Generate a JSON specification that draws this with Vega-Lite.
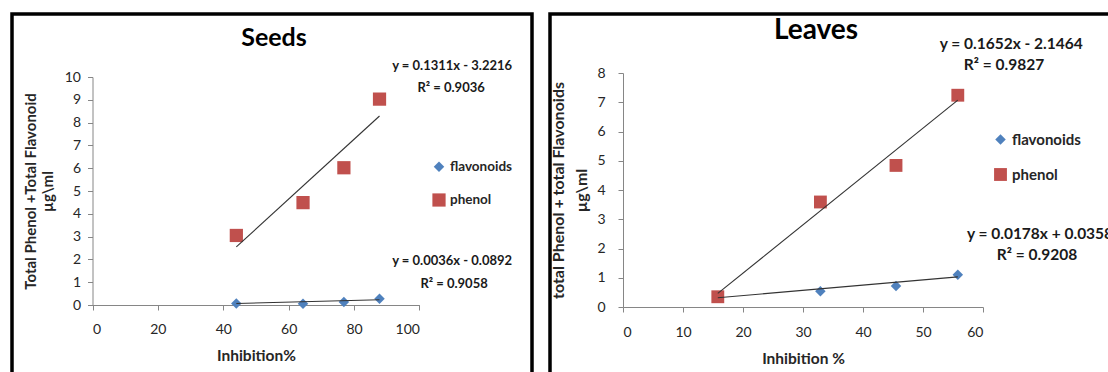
{
  "$schema": "https://vega.github.io/schema/vega-lite/v6.json",
  "padding": {"left": 10, "top": 12, "right": 0, "bottom": 0},
  "background": "white",
  "spacing": 18,
  "bounds": "flush",
  "datasets": {
    "seeds_points": [
      {"series": "flavonoids", "inhibition": 44.0, "value": 0.07},
      {"series": "flavonoids", "inhibition": 64.4, "value": 0.06},
      {"series": "flavonoids", "inhibition": 76.9, "value": 0.13},
      {"series": "flavonoids", "inhibition": 87.8, "value": 0.27},
      {"series": "phenol", "inhibition": 44.0, "value": 3.05},
      {"series": "phenol", "inhibition": 64.4, "value": 4.49},
      {"series": "phenol", "inhibition": 76.9, "value": 6.02},
      {"series": "phenol", "inhibition": 87.8, "value": 9.03}
    ],
    "seeds_trend": [
      {"series": "flavonoids", "inhibition": 44.0, "value": 0.069},
      {"series": "flavonoids", "inhibition": 87.8, "value": 0.227},
      {"series": "phenol", "inhibition": 44.0, "value": 2.547},
      {"series": "phenol", "inhibition": 87.8, "value": 8.289}
    ],
    "seeds_eq": [
      {"inhibition": 110.0, "value": 10.48, "label": "y = 0.1311x - 3.2216"},
      {"inhibition": 109.7, "value": 9.52, "label": "R² = 0.9036"},
      {"inhibition": 110.0, "value": 1.93, "label": "y = 0.0036x - 0.0892"},
      {"inhibition": 110.6, "value": 0.92, "label": "R² = 0.9058"}
    ],
    "leaves_points": [
      {"series": "flavonoids", "inhibition": 15.8, "value": 0.32},
      {"series": "flavonoids", "inhibition": 32.9, "value": 0.54},
      {"series": "flavonoids", "inhibition": 45.5, "value": 0.72},
      {"series": "flavonoids", "inhibition": 55.8, "value": 1.1},
      {"series": "phenol", "inhibition": 15.8, "value": 0.35},
      {"series": "phenol", "inhibition": 32.9, "value": 3.59},
      {"series": "phenol", "inhibition": 45.5, "value": 4.84},
      {"series": "phenol", "inhibition": 55.8, "value": 7.24}
    ],
    "leaves_trend": [
      {"series": "flavonoids", "inhibition": 15.8, "value": 0.317},
      {"series": "flavonoids", "inhibition": 55.8, "value": 1.029},
      {"series": "phenol", "inhibition": 15.8, "value": 0.464},
      {"series": "phenol", "inhibition": 55.8, "value": 7.072}
    ],
    "leaves_eq": [
      {"inhibition": 64.7, "value": 8.99, "label": "y = 0.1652x - 2.1464"},
      {"inhibition": 63.5, "value": 8.27, "label": "R² = 0.9827"},
      {"inhibition": 69.5, "value": 2.5, "label": "y = 0.0178x + 0.0358"},
      {"inhibition": 69.0, "value": 1.78, "label": "R² = 0.9208"}
    ]
  },
  "config": {
    "font": "Lato",
    "view": {"stroke": "#000000", "strokeWidth": 3.5},
    "axis": {
      "grid": false,
      "domainColor": "#868686",
      "tickColor": "#868686",
      "tickSize": 5,
      "labelFont": "Lato",
      "labelFontSize": 14,
      "labelColor": "#262626",
      "labelOverlap": false,
      "titleFont": "Lato",
      "titleFontSize": 15.5,
      "titleFontWeight": "bold",
      "titleColor": "#262626"
    },
    "axisY": {"labelOverlap": false},
    "axisQuantitative": {"labelOverlap": false},
    "legend": {
      "title": null,
      "labelFont": "Lato",
      "labelFontWeight": "bold",
      "labelColor": "#262626",
      "symbolSize": 64,
      "symbolStrokeWidth": 0,
      "padding": 0,
      "labelOffset": 4
    }
  },
  "resolve": {"scale": {"color": "independent", "shape": "independent", "size": "independent"}},
  "hconcat": [
    {
      "width": 520,
      "height": 370,
      "title": {"text": "Seeds", "fontSize": 25, "fontWeight": "bold", "anchor": "middle", "frame": "group", "baseline": "alphabetic", "offset": -57, "dx": 2, "color": "#000000"},
      "layer": [
        {
          "data": {"name": "seeds_points"},
          "mark": {"type": "point", "filled": true, "opacity": 1},
          "encoding": {
            "x": {"field": "inhibition", "type": "quantitative", "scale": {"domain": [0, 100], "range": [80.5, 407.4], "nice": false, "zero": false},
                  "axis": {"values": [0, 20, 40, 60, 80, 100], "offset": -79, "title": "Inhibition%", "titlePadding": 12, "labelPadding": 12.5}},
            "y": {"field": "value", "type": "quantitative", "scale": {"domain": [0, 10], "range": [291, 63], "nice": false},
                  "axis": {"values": [0, 1, 2, 3, 4, 5, 6, 7, 8, 9, 10], "labelOverlap": false, "tickCount": 11, "offset": -80.5, "title": ["Total Phenol  +Total Flavonoid", "µg\\ml"], "titleFontSize": 15, "titleLineHeight": 17, "titlePadding": 9, "labelPadding": 7}},
            "color": {"field": "series", "type": "nominal", "scale": {"domain": ["flavonoids", "phenol"], "range": ["#4F81BD", "#C0504D"]},
                      "legend": {"orient": "none", "legendX": 420, "legendY": 146, "rowPadding": 19, "labelFontSize": 13.5}},
            "shape": {"field": "series", "type": "nominal", "scale": {"domain": ["flavonoids", "phenol"], "range": ["diamond", "square"]}},
            "size": {"field": "series", "type": "nominal", "scale": {"domain": ["flavonoids", "phenol"], "range": [110, 175]}, "legend": null}
          }
        },
        {
          "data": {"name": "seeds_trend"},
          "mark": {"type": "line", "color": "#333333", "strokeWidth": 1.1},
          "encoding": {
            "x": {"field": "inhibition", "type": "quantitative"},
            "y": {"field": "value", "type": "quantitative"},
            "detail": {"field": "series", "type": "nominal"}
          }
        },
        {
          "data": {"name": "seeds_eq"},
          "mark": {"type": "text", "fontWeight": "bold", "fontSize": 13, "align": "center", "baseline": "middle", "color": "#1a1a1a"},
          "encoding": {
            "x": {"field": "inhibition", "type": "quantitative"},
            "y": {"field": "value", "type": "quantitative"},
            "text": {"field": "label", "type": "nominal"}
          }
        }
      ]
    },
    {
      "width": 570,
      "height": 370,
      "title": {"text": "Leaves", "fontSize": 28, "fontWeight": "bold", "anchor": "middle", "frame": "group", "baseline": "alphabetic", "offset": -53, "dx": -19, "color": "#000000"},
      "layer": [
        {
          "data": {"name": "leaves_points"},
          "mark": {"type": "point", "filled": true, "opacity": 1},
          "encoding": {
            "x": {"field": "inhibition", "type": "quantitative", "scale": {"domain": [0, 60], "range": [73, 433], "nice": false, "zero": false},
                  "axis": {"values": [0, 10, 20, 30, 40, 50, 60], "offset": -77, "title": "Inhibition %", "titlePadding": 12, "labelPadding": 13}},
            "y": {"field": "value", "type": "quantitative", "scale": {"domain": [0, 8], "range": [293, 59], "nice": false},
                  "axis": {"values": [0, 1, 2, 3, 4, 5, 6, 7, 8], "labelOverlap": false, "offset": -73, "title": ["total Phenol + total Flavonoids", "µg\\ml"], "titleFontSize": 16, "titleLineHeight": 23, "titlePadding": 7, "labelPadding": 13}},
            "color": {"field": "series", "type": "nominal", "scale": {"domain": ["flavonoids", "phenol"], "range": ["#4F81BD", "#C0504D"]},
                      "legend": {"orient": "none", "legendX": 443, "legendY": 118, "rowPadding": 19, "labelFontSize": 15}},
            "shape": {"field": "series", "type": "nominal", "scale": {"domain": ["flavonoids", "phenol"], "range": ["diamond", "square"]}},
            "size": {"field": "series", "type": "nominal", "scale": {"domain": ["flavonoids", "phenol"], "range": [110, 165]}, "legend": null}
          }
        },
        {
          "data": {"name": "leaves_trend"},
          "mark": {"type": "line", "color": "#333333", "strokeWidth": 1.1},
          "encoding": {
            "x": {"field": "inhibition", "type": "quantitative"},
            "y": {"field": "value", "type": "quantitative"},
            "detail": {"field": "series", "type": "nominal"}
          }
        },
        {
          "data": {"name": "leaves_eq"},
          "mark": {"type": "text", "fontWeight": "bold", "fontSize": 15.5, "align": "center", "baseline": "middle", "color": "#1a1a1a"},
          "encoding": {
            "x": {"field": "inhibition", "type": "quantitative"},
            "y": {"field": "value", "type": "quantitative"},
            "text": {"field": "label", "type": "nominal"}
          }
        }
      ]
    }
  ]
}
